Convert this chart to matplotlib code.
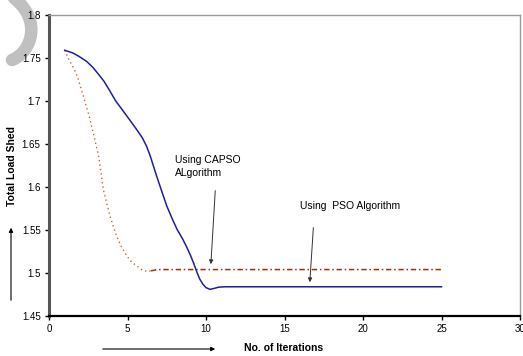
import numpy as np
import matplotlib.pyplot as plt
from matplotlib.path import Path
from matplotlib.patches import PathPatch, FancyArrowPatch

plt.rcParams['font.family'] = ['Liberation Sans', 'DejaVu Sans']

# CAPSO curve (solid blue)
capso_x = [1, 1.5, 1.9, 2.4, 2.8, 3.2, 3.5, 3.9, 4.25, 4.7, 5.1, 5.5, 5.95, 6.2,
           6.45, 6.85, 7.2, 7.5, 7.85, 8.15, 8.5, 8.75, 9.0, 9.2, 9.4, 9.6, 9.8,
           10.0, 10.25, 10.5, 10.8, 11.2, 12, 15, 20, 25]
capso_y = [1.759, 1.756, 1.752, 1.746, 1.739, 1.730, 1.723, 1.711, 1.700, 1.689,
           1.679, 1.669, 1.657, 1.648, 1.636, 1.613, 1.594, 1.578, 1.563, 1.551,
           1.540, 1.531, 1.521, 1.512, 1.502, 1.493, 1.487, 1.483, 1.481, 1.482,
           1.4835, 1.484, 1.484, 1.484, 1.484, 1.484]

# PSO curve (red dash-dot)
pso_x = [1, 1.27, 1.55, 1.8, 2.12, 2.55, 2.87, 3.18, 3.35, 3.46, 3.65, 3.89,
         4.1, 4.31, 4.6, 4.95, 5.25, 5.6, 5.9, 6.2, 6.5, 6.9, 8, 10, 15, 20, 25]
pso_y = [1.759, 1.748, 1.739, 1.729, 1.710, 1.683, 1.659, 1.634, 1.612, 1.597,
         1.583, 1.566, 1.554, 1.543, 1.531, 1.520, 1.513, 1.508, 1.504, 1.502,
         1.5025, 1.504, 1.504, 1.504, 1.504, 1.504, 1.504]

xticks = [0, 5, 10, 15, 20, 25, 30]
yticks = [1.45, 1.5, 1.55, 1.6, 1.65, 1.7, 1.75, 1.8]

fig = plt.figure(figsize=(5.23, 3.56), dpi=100)
ax = fig.add_axes([49/523, 40/356, 471/523, 301/356])

split = 20  # descent drawn dotted, flat part dash-dot
ax.plot(pso_x[:split+1], pso_y[:split+1], color='#cc6633', lw=1.0,
        linestyle=(0, (1, 2.2)))
ax.plot(pso_x[split:], pso_y[split:], color='#a33000', lw=1.1,
        linestyle=(0, (3.5, 1.8, 1, 1.8)))
ax.plot(capso_x, capso_y, color='#1f1f9f', lw=1.1)

ax.set_xlim(0, 30)
ax.set_ylim(1.45, 1.8)
ax.set_xticks(xticks)
ax.set_xticklabels([str(t) for t in xticks])
ax.set_yticks(yticks)
ax.set_yticklabels(['%g' % t for t in yticks])
ax.tick_params(labelsize=7, length=3, width=1, direction='out', pad=3)

ax.spines['left'].set_color('#555555')
ax.spines['left'].set_linewidth(2.2)
ax.spines['bottom'].set_color('black')
ax.spines['bottom'].set_linewidth(1.6)
for s in ['top', 'right']:
    ax.spines[s].set_color('#999999')
    ax.spines[s].set_linewidth(1.0)

# annotations
ax.text(8.0, 1.624, 'Using CAPSO\nALgorithm', fontsize=7.5, va='center',
        ha='left', linespacing=1.3)
ax.text(16.0, 1.578, 'Using  PSO Algorithm', fontsize=7.5, va='center',
        ha='left')
ax.annotate('', xy=(10.3, 1.507), xytext=(10.6, 1.599),
            arrowprops=dict(arrowstyle='-|>', color='#333333', lw=0.7,
                            mutation_scale=6))
ax.annotate('', xy=(16.6, 1.486), xytext=(16.85, 1.556),
            arrowprops=dict(arrowstyle='-|>', color='#333333', lw=0.7,
                            mutation_scale=6))

# axis titles
fig.text(12/523, 1 - 166/356, 'Total Load Shed', rotation=90, fontsize=7.5,
         fontweight='bold', ha='center', va='center')
fig.text(284/523, 1 - 348/356, 'No. of Iterations', fontsize=7.5,
         fontweight='bold', ha='center', va='center')
fig.patches.append(FancyArrowPatch((11/523, 1 - 303/356), (11/523, 1 - 225/356),
                                   transform=fig.transFigure, arrowstyle='-|>',
                                   mutation_scale=6, lw=0.8, color='black'))
fig.patches.append(FancyArrowPatch((100/523, 1 - 349/356), (218/523, 1 - 349/356),
                                   transform=fig.transFigure, arrowstyle='-|>',
                                   mutation_scale=6, lw=0.8, color='black'))

# gray swirl in the top-left corner, behind everything
def px(x, y):
    return (x/523, 1 - y/356)
verts = [px(14, -2), px(42, 20), px(32, 52), px(12, 60)]
swirl = PathPatch(Path(verts, [Path.MOVETO, Path.CURVE4, Path.CURVE4, Path.CURVE4]),
                  transform=fig.transFigure, fill=False, edgecolor='#c0c0c0',
                  lw=9, capstyle='round', zorder=-5)
fig.patches.append(swirl)

fig.savefig('out.png', dpi=100)
